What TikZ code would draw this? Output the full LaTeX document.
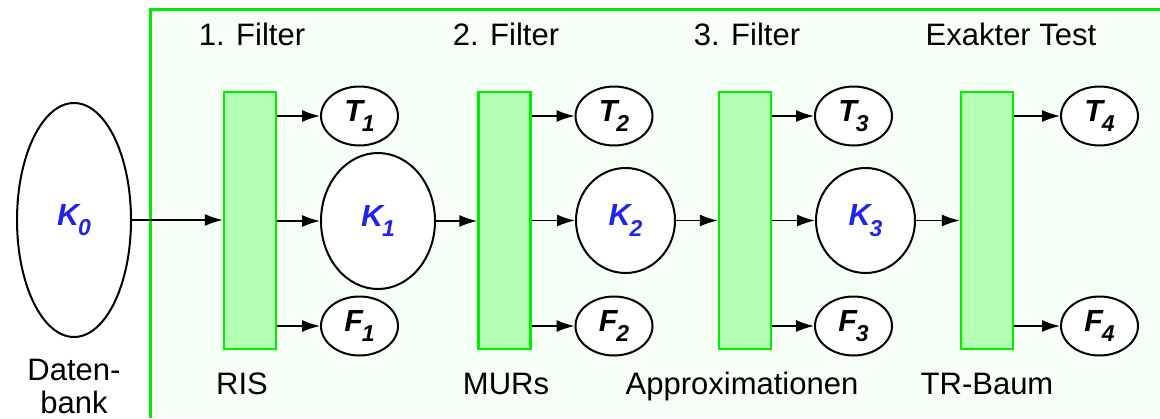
\documentclass[tikz,border=0pt]{standalone}
\usepackage{fontspec}
\setmainfont{Liberation Sans}
\usetikzlibrary{shapes.geometric,arrows.meta}
\definecolor{fgreen}{HTML}{00EE00}
\definecolor{rfill}{HTML}{B3FFB3}
\definecolor{bgg}{HTML}{F6FFF6}
\definecolor{kblue}{HTML}{2222EE}
\newcommand\lowsub[1]{\kern-1pt\raisebox{-0.35em}{\fontsize{23}{23}\selectfont #1}}
\begin{document}
\begin{tikzpicture}[x=1pt,y=-1pt,
 lbl/.style={font=\fontsize{31}{36}\selectfont, anchor=base, inner sep=0},
 filt/.style={draw=fgreen, fill=rfill, line width=2.5pt, minimum width=52pt, minimum height=257pt, inner sep=0},
 oval/.style={ellipse, draw, line width=2pt, fill=white, inner sep=0, font=\fontsize{30.5}{30}\selectfont\bfseries\itshape},
 small/.style={oval, minimum width=77pt, minimum height=59pt},
 mid/.style={oval, minimum width=99pt, minimum height=105pt, text=kblue},
 arr/.style={-{Latex[length=18pt,width=12pt]}, line width=1.5pt}
]
\useasboundingbox (0,0) rectangle (1160,418);
\fill[bgg] (150,9) rectangle (1160,418);
\draw[fgreen, line width=3pt] (150,418) -- (150,9) -- (1160,9);

\node[oval, minimum width=114pt, minimum height=234pt, text=kblue] (K0) at (74,220) {K\lowsub{0}};

\node[filt] (f1) at (250,220.5) {};
\node[filt] (f2) at (504.5,220.5) {};
\node[filt] (f3) at (745,220.5) {};
\node[filt] (f4) at (987,220.5) {};

\node[small] (T1) at (359.5,116) {T\lowsub{1}};
\node[small] (T2) at (614,116) {T\lowsub{2}};
\node[small] (T3) at (853.5,116) {T\lowsub{3}};
\node[small] (T4) at (1099.5,116) {T\lowsub{4}};
\node[small] (F1) at (359.5,326) {F\lowsub{1}};
\node[small] (F2) at (614,326) {F\lowsub{2}};
\node[small] (F3) at (853.5,326) {F\lowsub{3}};
\node[small] (F4) at (1099.5,326) {F\lowsub{4}};

\node[oval, minimum width=114pt, minimum height=136pt, text=kblue] (K1) at (378,221) {K\lowsub{1}};
\node[mid] (K2) at (625.5,220.5) {K\lowsub{2}};
\node[mid] (K3) at (865.5,220.5) {K\lowsub{3}};

\draw[arr] (K0.east) -- (K0.east -| f1.west);
\draw[arr] (K1.east) -- (K1.east -| f2.west);
\draw[arr] (K2.east) -- (K2.east -| f3.west);
\draw[arr] (K3.east) -- (K3.east -| f4.west);

\draw[arr] (f1.east |- T1) -- (T1.west);
\draw[arr] (f1.east |- K1) -- (K1.west);
\draw[arr] (f1.east |- F1) -- (F1.west);
\draw[arr] (f2.east |- T2) -- (T2.west);
\draw[arr] (f2.east |- K2) -- (K2.west);
\draw[arr] (f2.east |- F2) -- (F2.west);
\draw[arr] (f3.east |- T3) -- (T3.west);
\draw[arr] (f3.east |- K3) -- (K3.west);
\draw[arr] (f3.east |- F3) -- (F3.west);
\draw[arr] (f4.east |- T4) -- (T4.west);
\draw[arr] (f4.east |- F4) -- (F4.west);

\node[lbl] (h1) at (252,45) {1. Filter};
\node[lbl] (h2) at (506,45) {2. Filter};
\node[lbl] (h3) at (747,45) {3. Filter};
\node[lbl] (h4) at (1011,45) {Exakter Test};

\node[lbl] (b1) at (242,394) {RIS};
\node[lbl] (b2) at (506,394) {MURs};
\node[lbl] (b3) at (742,394) {Approximationen};
\node[lbl] (b4) at (987,394) {TR-Baum};
\node[lbl] (d1) at (74,380) {Daten-};
\node[lbl] (d2) at (74,413) {bank};
\end{tikzpicture}
\end{document}
